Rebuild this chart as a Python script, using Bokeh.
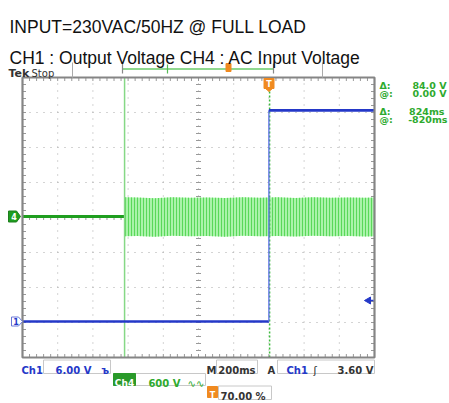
from bokeh.plotting import figure
from bokeh.models import Range1d, Label
from bokeh.embed import file_html
from bokeh.resources import INLINE
import numpy as np

# ---------------- data ----------------
title_line1 = "INPUT=230VAC/50HZ @ FULL LOAD"
title_line2 = "CH1 : Output Voltage CH4 : AC Input Voltage"

time_per_div_ms = 200
n_xdiv, n_ydiv = 10, 8
trigger_pos_pct = 70.0
ch1_v_per_div = 6.0
ch4_v_per_div = 600.0
trigger_level_v = 3.60

# CH1 output voltage (blue)
ch1_t_ms = [-1400, 0, 0, 600]
ch1_v = [0.0, 0.0, 36.2, 36.2]

# CH4 AC input voltage (green): flat, then dense 50 Hz envelope
ch4_flat_t_ms = [-1400, -820]
ch4_flat_v = [0.0, 0.0]
ac_t_ms = [-820, -750, -650, -550, -450, -350, -250, -150, -50, 50, 150, 250, 350, 450, 550, 600]
ac_upper_v = [330, 325, 315, 330, 320, 325, 318, 330, 322, 328, 318, 330, 322, 326, 320, 325]
ac_lower_v = [-340, -335, -345, -330, -340, -335, -345, -332, -340, -336, -344, -332, -340, -335, -342, -338]

cursor1_ms = -820
cursor_delta_ms = 824
cursor_dv = 84.0
cursor_at_v = 0.00

# ---------------- geometry helpers (reference pixel -> data) ----------------
W, H = 449, 403
SX0, SX1, SY0, SY1 = 22.0, 374.0, 77.0, 357.0     # screen box in pixels
px_x = (SX1 - SX0) / n_xdiv
px_y = (SY1 - SY0) / n_ydiv
t_start = -trigger_pos_pct / 100 * n_xdiv * time_per_div_ms
t_end = t_start + n_xdiv * time_per_div_ms
MSPX = time_per_div_ms / px_x

def X(rx):
    return t_start + (rx - SX0) * MSPX

def Y(ry):
    return (SY1 - ry) / px_y

c1 = Y(321)   # ch1 ground in divisions
c4 = Y(216)   # ch4 ground in divisions

p = figure(width=W, height=H, output_backend="svg", toolbar_location=None,
           x_axis_type=None, y_axis_type=None,
           x_range=Range1d(X(0), X(W)), y_range=Range1d(Y(H), Y(0)),
           min_border=0, min_border_left=0, min_border_right=0,
           min_border_top=0, min_border_bottom=0)
p.outline_line_color = None
p.xgrid.visible = False
p.ygrid.visible = False
p.background_fill_color = "white"
p.border_fill_color = "white"

y0, y1 = p.y_range.start, p.y_range.end
p.extra_y_ranges = {
    "ch1": Range1d((y0 - c1) * ch1_v_per_div, (y1 - c1) * ch1_v_per_div),
    "ch4": Range1d((y0 - c4) * ch4_v_per_div, (y1 - c4) * ch4_v_per_div),
}

GRID = "#a8a8a8"
BORDER = "#858585"
GREEN_T = "#2eaa2e"
BLUE_T = "#2438c8"

# ---------------- graticule ----------------
vx = [t_start + k * time_per_div_ms for k in range(1, n_xdiv)]
p.segment(x0=vx, y0=[0] * len(vx), x1=vx, y1=[n_ydiv] * len(vx),
          line_color=GRID, line_width=1, line_dash="1 6")
hy = list(range(1, n_ydiv))
p.segment(x0=[t_start] * len(hy), y0=hy, x1=[t_end] * len(hy), y1=hy,
          line_color=GRID, line_width=1, line_dash="1 6")

tx = np.arange(0, n_xdiv * 5 + 1) / 5.0
ty = np.arange(0, n_ydiv * 5 + 1) / 5.0
tms = t_start + tx * time_per_div_ms
tcen = t_start + n_xdiv / 2 * time_per_div_ms
ycen = n_ydiv / 2
d = 2.5 / px_y
dx = 2.5 * MSPX
p.segment(x0=tms, y0=ycen - d, x1=tms, y1=ycen + d, line_color="#999999", line_width=1)
p.segment(x0=tcen - dx, y0=ty, x1=tcen + dx, y1=ty, line_color="#999999", line_width=1)
bd = 3.5 / px_y
bdx = 3.5 * MSPX
p.segment(x0=tms, y0=n_ydiv - bd, x1=tms, y1=n_ydiv, line_color="#999999", line_width=1)
p.segment(x0=tms, y0=0, x1=tms, y1=bd, line_color="#999999", line_width=1)
p.segment(x0=t_start, y0=ty, x1=t_start + bdx, y1=ty, line_color="#999999", line_width=1)
p.segment(x0=t_end - bdx, y0=ty, x1=t_end, y1=ty, line_color="#999999", line_width=1)

# ---------------- traces ----------------
p.varea(x=ac_t_ms, y1=ac_lower_v, y2=ac_upper_v, y_range_name="ch4",
        fill_color="#aaf3aa", hatch_pattern="|", hatch_color="#5ad85a",
        hatch_scale=3, hatch_weight=1)
p.line(ch4_flat_t_ms, ch4_flat_v, y_range_name="ch4", line_color="#1f9e1f", line_width=3)

cursor2_ms = cursor1_ms + cursor_delta_ms
p.segment(x0=[cursor1_ms], y0=[0], x1=[cursor1_ms], y1=[n_ydiv], line_color="#86d886", line_width=1.5)
p.segment(x0=[cursor2_ms], y0=[0], x1=[cursor2_ms], y1=[n_ydiv], line_color="#3dbb3d",
          line_width=1.5, line_dash="2 2")

p.line(ch1_t_ms[:2], ch1_v[:2], y_range_name="ch1", line_color=BLUE_T, line_width=2.6)
p.line(ch1_t_ms[1:3], ch1_v[1:3], y_range_name="ch1", line_color="#5a6ee8", line_width=1.3)
p.line(ch1_t_ms[2:], ch1_v[2:], y_range_name="ch1", line_color=BLUE_T, line_width=2.6)

p.quad(left=[t_start], right=[t_end], bottom=[0], top=[n_ydiv], fill_color=None,
       line_color=BORDER, line_width=2.2)

# trigger level arrow (right)
p.scatter(x=[X(368)], y=[trigger_level_v], y_range_name="ch1", marker="triangle",
          angle=np.pi / 2, size=7, fill_color=BLUE_T, line_color=BLUE_T)
p.segment(x0=[X(368)], y0=[trigger_level_v], x1=[X(373)], y1=[trigger_level_v],
          y_range_name="ch1", line_color=BLUE_T, line_width=1.5)

def pent(xl, xr, yc, h):
    xm = xr - 4
    xs = [X(xl), X(xm), X(xr), X(xm), X(xl)]
    ys = [Y(yc - h), Y(yc - h), Y(yc), Y(yc + h), Y(yc + h)]
    return xs, ys

xs, ys = pent(8, 20, 216, 5.5)
p.patch(xs, ys, fill_color="#1f9e1f", line_color="#1f7e1f", line_width=1)
p.add_layout(Label(x=X(13.5), y=Y(216), text="4", text_color="white", text_font_size="8px",
                   text_font_style="bold", text_align="center", text_baseline="middle",
                   text_font="DejaVu Sans"))
xs, ys = pent(11, 22, 321, 4.5)
p.patch(xs, ys, fill_color="white", line_color="#6a78d8", line_width=1)
p.add_layout(Label(x=X(15.5), y=Y(321), text="1", text_color=BLUE_T, text_font_size="8px",
                   text_font_style="bold", text_align="center", text_baseline="middle",
                   text_font="DejaVu Sans"))

# trigger position marker (top of screen)
p.quad(left=[X(263.5)], right=[X(273.5)], top=[Y(78)], bottom=[Y(88)],
       fill_color="#f08a20", line_color="#f08a20")
p.patch([X(265), X(272), X(268.5)], [Y(88), Y(88), Y(91)], fill_color="#f08a20", line_color="#f08a20")
p.add_layout(Label(x=X(268.5), y=Y(83.5), text="T", text_color="white", text_font_size="8px",
                   text_font_style="bold", text_align="center", text_baseline="middle",
                   text_font="DejaVu Sans"))

# ---------------- top status bar ----------------
p.segment(x0=[X(72), X(322)], y0=[Y(62), Y(62)], x1=[X(72), X(322)], y1=[Y(77), Y(77)],
          line_color="#aaaaaa", line_width=1)
p.segment(x0=[X(122)], y0=[Y(68.5)], x1=[X(273)], y1=[Y(68.5)], line_color="#8fd88f", line_width=2)
p.segment(x0=[X(122), X(273), X(167)], y0=[Y(63), Y(63), Y(64)],
          x1=[X(122), X(273), X(167)], y1=[Y(73), Y(73), Y(73)],
          line_color=["#888888", "#888888", "#55bb55"], line_width=1.2)
p.quad(left=[X(225.5)], right=[X(230.5)], top=[Y(63)], bottom=[Y(71)],
       fill_color="#f08a20", line_color="#f08a20")

def lab(x, y, text, color="#222222", size="10px", style="bold", align="left",
        baseline="alphabetic", font="DejaVu Sans"):
    p.add_layout(Label(x=X(x), y=Y(y), text=text, text_color=color, text_font_size=size,
                       text_font_style=style, text_align=align, text_baseline=baseline,
                       text_font=font))

lab(8, 73, "Tek", color="#333333", size="11px")
lab(31, 73, "Stop", color="#333333", size="10px", style="normal")

lab(9, 26, title_line1, color="#111111", size="17.5px", style="normal", font="Liberation Sans")
lab(9, 57, title_line2, color="#111111", size="17.5px", style="normal", font="Liberation Sans")

# cursor readouts (right)
lab(379, 84.5, "\u0394:", color=GREEN_T, size="9.5px")
lab(446, 84.5, f"{cursor_dv:.1f} V", color=GREEN_T, size="9.5px", align="right")
lab(379, 92.5, "@:", color=GREEN_T, size="9.5px")
lab(446, 92.5, f"{cursor_at_v:.2f} V", color=GREEN_T, size="9.5px", align="right")
lab(379, 110.5, "\u0394:", color=GREEN_T, size="9.5px")
lab(444, 110.5, f"{cursor_delta_ms:d}ms", color=GREEN_T, size="9.5px", align="right")
lab(379, 118.5, "@:", color=GREEN_T, size="9.5px")
lab(447, 118.5, f"-{abs(cursor1_ms):d}ms", color=GREEN_T, size="9.5px", align="right")

# ---------------- bottom readouts ----------------
def box(l, r, t, b, fill="white", line="#c8c8c8"):
    p.quad(left=[X(l)], right=[X(r)], top=[Y(t)], bottom=[Y(b)], fill_color=fill, line_color=line,
           line_width=1)

box(43, 110, 359.5, 373)
lab(21, 370, "Ch1", color=BLUE_T)
lab(91, 370, f"{ch1_v_per_div:.2f} V", color=BLUE_T, align="right")
lab(101, 370, "\u044a", color=BLUE_T, size="10px")

lab(206, 370, "M", color="#333333")
box(216, 257, 359.5, 373)
lab(255, 370, f"{time_per_div_ms}ms", color="#333333", align="right")
lab(267, 370, "A", color="#333333")
box(277, 374, 359.5, 373)
lab(286, 370, "Ch1", color=BLUE_T)
lab(313, 370, "\u0283", color="#222222", size="10px", style="normal")
lab(373, 370, f"{trigger_level_v:.2f} V", color="#333333", align="right")

box(113, 205, 373, 385)
box(113, 135, 373, 385, fill="#2a9a2a", line="#2a9a2a")
lab(124, 382.5, "Ch4", color="white", size="9px", align="center")
lab(180, 383, f"{ch4_v_per_div:.0f} V", color=GREEN_T, align="right")
lab(187, 383, "\u223f\u223f", color=GREEN_T, size="10px", style="normal")

p.quad(left=[X(207)], right=[X(217)], top=[Y(386)], bottom=[Y(397)], fill_color="#f08a20",
       line_color="#f08a20")
lab(212, 395, "T", color="white", size="8px", align="center")
box(218, 271, 385.5, 399)
lab(220, 396, f"{trigger_pos_pct:.2f} %", color="#333333")

open("out.html", "w").write(file_html(p, INLINE))
